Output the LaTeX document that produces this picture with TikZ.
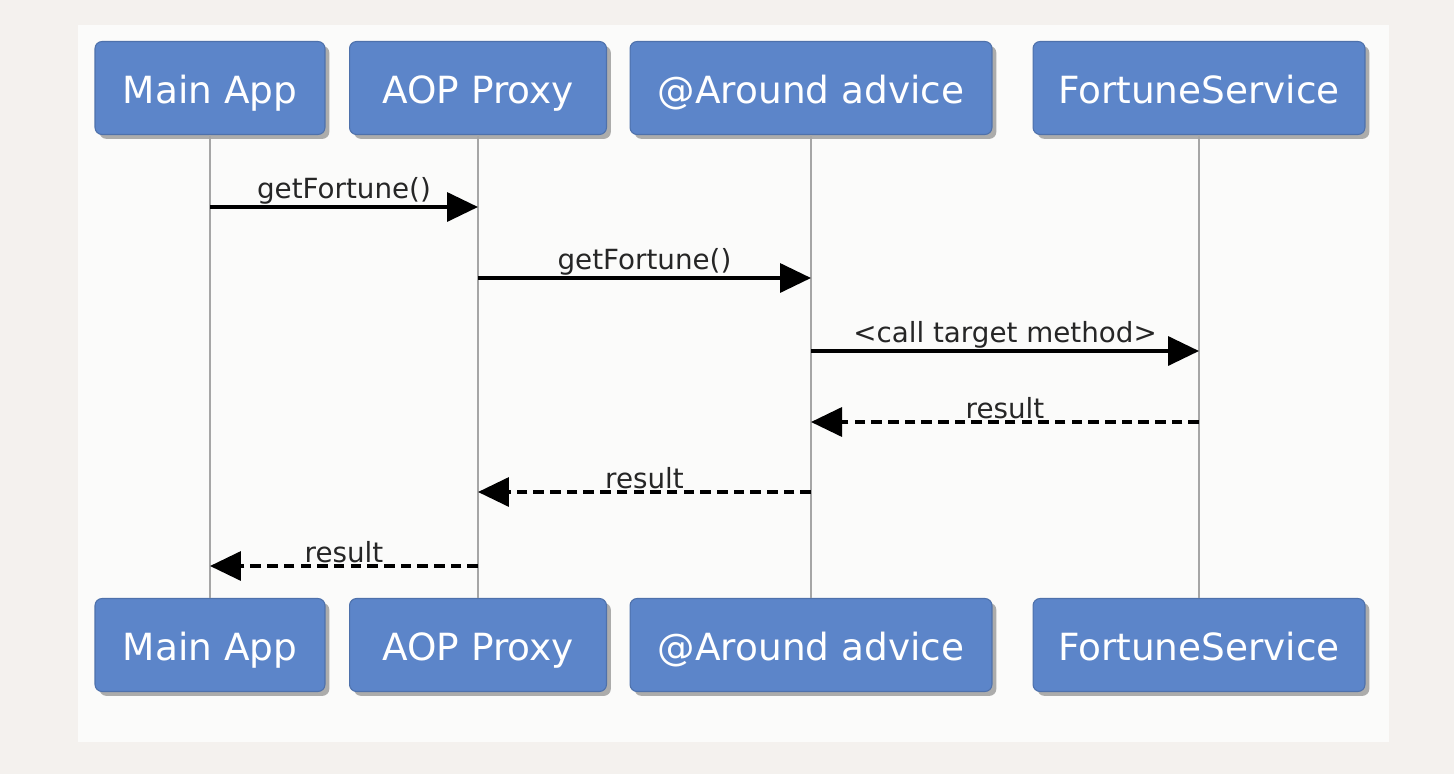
\documentclass[tikz,border=0pt]{standalone}
\usepackage{fontspec}
\setmainfont{DejaVu Sans}
\usepackage{xcolor}
\usepackage{tikz}
\usetikzlibrary{arrows.meta,positioning,shadows}

\definecolor{boxblue}{RGB}{92,133,201}
\definecolor{pagebg}{RGB}{244,241,238}
\definecolor{panelbg}{RGB}{251,251,250}

\begin{document}
\begin{tikzpicture}[x=0.02cm, y=-0.02cm,
    actor/.style={draw=boxblue!85!black, line width=0.6pt, rounded corners=4pt, fill=boxblue, text=white,
      minimum height=1.86cm, text height=18pt, text depth=0pt, font=\fontsize{21.3}{25}\selectfont,
      drop shadow={shadow xshift=2.5pt, shadow yshift=-2.5pt, fill=black!70, opacity=0.45}},
    life/.style={draw=gray!70, line width=1.5pt},
    call/.style={line width=2pt, -{Triangle[length=0.62cm, width=0.58cm]}},
    answer/.style={call, dash pattern=on 6pt off 3.5pt},
    lbl/.style={above, inner sep=0.5pt, text=black!85, font=\fontsize{15.8}{18}\selectfont}]
    % background and panel
    \fill[pagebg] (0,0) rectangle (1454,774);
    \fill[panelbg] (78,25) rectangle (1389,742);

    % lifeline heads
    \node[actor, minimum width=4.6cm] (appTop) at (210,88) {Main App};
    \node[actor, minimum width=5.14cm] (proxyTop) at (478,88) {AOP Proxy};
    \node[actor, minimum width=7.24cm] (adviceTop) at (811,88) {@Around advice};
    \node[actor, minimum width=6.64cm] (serviceTop) at (1199,88) {FortuneService};

    % lifeline feet
    \node[actor, minimum width=4.6cm] (appBot) at (210,645) {Main App};
    \node[actor, minimum width=5.14cm] (proxyBot) at (478,645) {AOP Proxy};
    \node[actor, minimum width=7.24cm] (adviceBot) at (811,645) {@Around advice};
    \node[actor, minimum width=6.64cm] (serviceBot) at (1199,645) {FortuneService};

    \draw[life] (appTop) -- (appBot);
    \draw[life] (proxyTop) -- (proxyBot);
    \draw[life] (adviceTop) -- (adviceBot);
    \draw[life] (serviceTop) -- (serviceBot);

    % message ends on the lifelines
    \coordinate (app1) at (appTop |- 0,207);
    \coordinate (proxy1) at (proxyTop |- 0,207);
    \coordinate (proxy2) at (proxyTop |- 0,278);
    \coordinate (advice2) at (adviceTop |- 0,278);
    \coordinate (advice3) at (adviceTop |- 0,351);
    \coordinate (service3) at (serviceTop |- 0,351);
    \coordinate (service4) at (serviceTop |- 0,422);
    \coordinate (advice4) at (adviceTop |- 0,422);
    \coordinate (advice5) at (adviceTop |- 0,492);
    \coordinate (proxy5) at (proxyTop |- 0,492);
    \coordinate (proxy6) at (proxyTop |- 0,566);
    \coordinate (app6) at (appTop |- 0,566);

    % calls
    \draw[call] (app1) -- node[lbl] {getFortune()} (proxy1);
    \draw[call] (proxy2) -- node[lbl] {getFortune()} (advice2);
    \draw[call] (advice3) -- node[lbl] {<call target method>} (service3);

    % replies
    \draw[answer] (service4) -- node[lbl] {result} (advice4);
    \draw[answer] (advice5) -- node[lbl] {result} (proxy5);
    \draw[answer] (proxy6) -- node[lbl] {result} (app6);
  \end{tikzpicture}
\end{document}
